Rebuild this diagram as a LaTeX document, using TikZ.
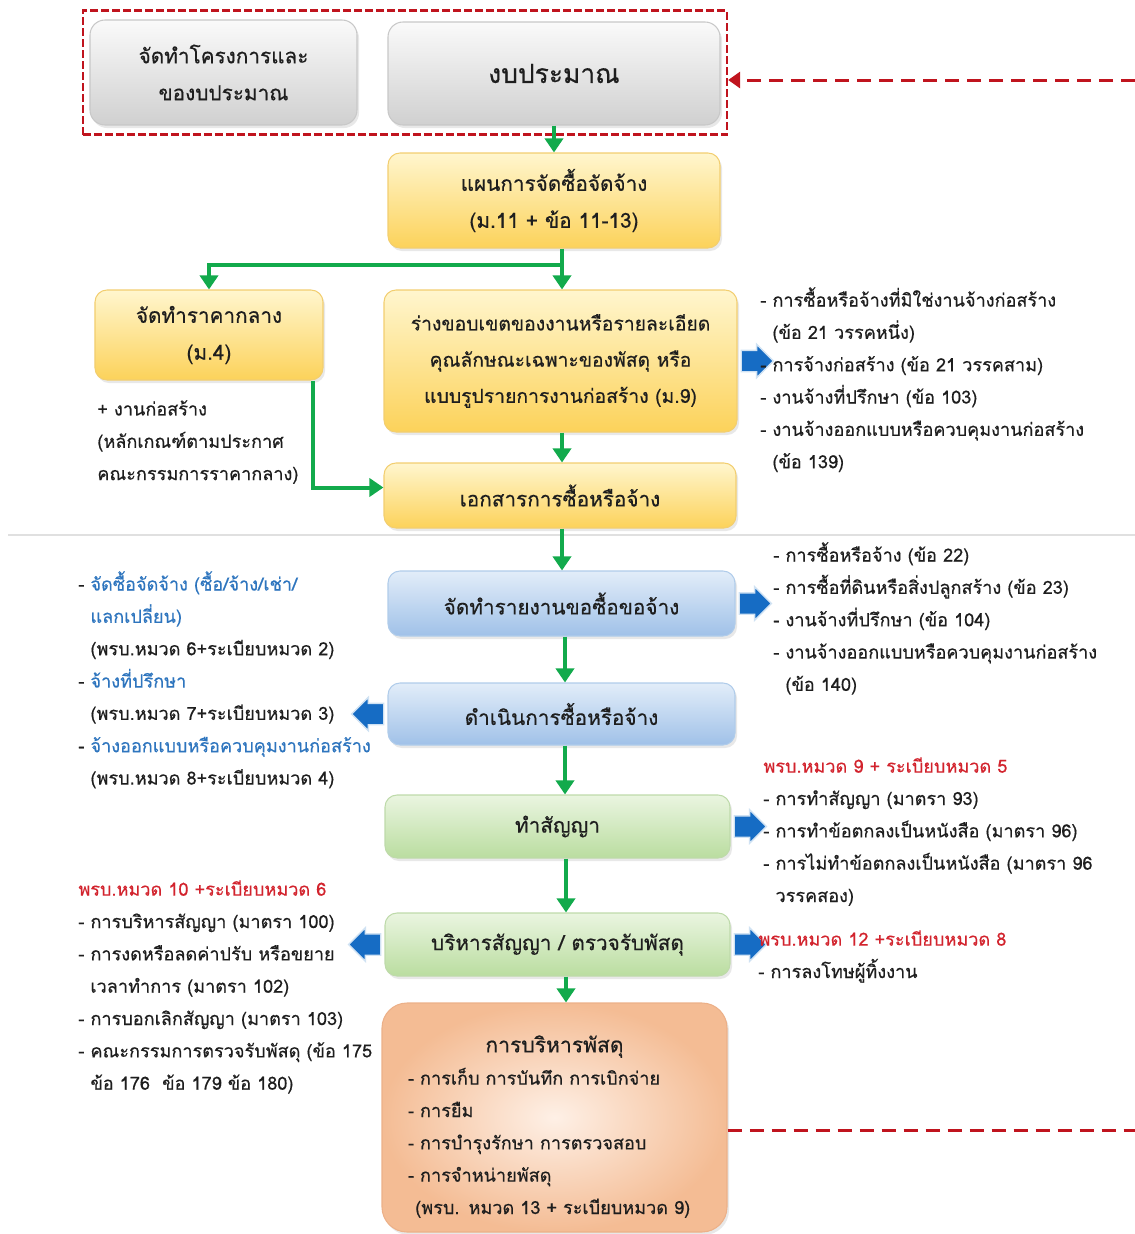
\documentclass[tikz,border=0pt]{standalone}
\usepackage{fontspec}
\newfontfamily\thaifont[Script=Thai,FakeBold=0.5]{Loma}
\usetikzlibrary{arrows.meta,positioning,fit,backgrounds,shapes.arrows,shadows}
\definecolor{textgray}{RGB}{30,30,30}
\definecolor{flowgreen}{RGB}{18,170,76}
\definecolor{arrowblue}{RGB}{22,108,196}
\definecolor{loopred}{RGB}{192,20,30}
\definecolor{noteblue}{RGB}{46,117,190}
\definecolor{notered}{RGB}{210,35,45}
\definecolor{silvertop}{RGB}{250,250,250}
\definecolor{silverbot}{RGB}{208,208,208}
\definecolor{silverline}{RGB}{200,200,200}
\definecolor{goldtop}{RGB}{255,246,206}
\definecolor{goldbot}{RGB}{252,210,90}
\definecolor{goldline}{RGB}{242,206,112}
\definecolor{skytop}{RGB}{226,237,249}
\definecolor{skybot}{RGB}{160,193,232}
\definecolor{skyline}{RGB}{176,204,234}
\definecolor{leaftop}{RGB}{234,245,224}
\definecolor{leafbot}{RGB}{186,221,160}
\definecolor{leafline}{RGB}{190,218,170}
\definecolor{peachtop}{RGB}{254,240,230}
\definecolor{peachbot}{RGB}{244,188,148}
\definecolor{peachline}{RGB}{236,176,136}
\tikzset{
  stage/.style={draw=#1line, top color=#1top, bottom color=#1bot, rounded corners=2.4mm,
    line width=0.6pt, align=center, text=textgray, font=\thaifont\fontsize{11.8}{21}\selectfont,
    drop shadow={opacity=0.18, shadow xshift=0.4mm, shadow yshift=-0.6mm}},
  note/.style={anchor=north west, inner sep=0pt, align=left, text=textgray,
    font=\thaifont\fontsize{10.3}{18.4}\selectfont, execute at begin node={\rule{0pt}{13pt}}},
  flow/.style={-{Triangle[length=2.8mm,width=3.6mm]}, line width=0.8mm, draw=flowgreen},
  pointer/.style={single arrow, fill=arrowblue, draw=arrowblue!20, line width=0.8pt,
    minimum height=6mm, minimum width=6.4mm, inner sep=2mm, single arrow head extend=1.2mm},
  feedback/.style={draw=loopred, line width=0.6mm, dash pattern=on 2.8mm off 1.6mm}
}
\begin{document}
\begin{tikzpicture}[x=0.2mm, y=-0.2mm]
  \useasboundingbox (0,0) rectangle (1135,1234);
  \draw[black!12, line width=0.8pt] (8,535) -- (1135,535);
  % budget stage
  \node[stage=silver, rounded corners=3mm, minimum width=53.4mm, minimum height=21mm] (projects) at (223.5,72.5) {จัดทำโครงการและ\\ของบประมาณ};
  \node[stage=silver, rounded corners=3mm, minimum width=66.4mm, minimum height=20.6mm, font=\thaifont\fontsize{15}{21}\selectfont] (budget) at (554,73.5) {งบประมาณ};
  \node[draw=loopred, dash pattern=on 1.6mm off 0.6mm, line width=0.45mm, fit=(projects)(budget), inner xsep=1.3mm, inner ysep=1.8mm] (budgetframe) {};
  % planning
  \node[stage=gold, minimum width=66.4mm, minimum height=19mm] (plan) at (554,200.5) {แผนการจัดซื้อจัดจ้าง\\(ม.11 + ข้อ 11-13)};
  \node[stage=gold, minimum width=45.6mm, minimum height=18mm] (price) at (209,335) {จัดทำราคากลาง\\(ม.4)};
  \node[stage=gold, minimum width=70.6mm, minimum height=28.4mm, font=\thaifont\fontsize{11}{20.6}\selectfont] (scope) at (560.5,361) {ร่างขอบเขตของงานหรือรายละเอียด\\คุณลักษณะเฉพาะของพัสดุ หรือ\\แบบรูปรายการงานก่อสร้าง (ม.9)};
  \node[stage=gold, minimum width=70.4mm, minimum height=13mm] (doc) at (560,495.5) {เอกสารการซื้อหรือจ้าง};
  \node[note] (pricenote) at (97,400) {+ งานก่อสร้าง\\(หลักเกณฑ์ตามประกาศ\\คณะกรรมการราคากลาง)};
  \node[pointer, right=0.6mm of scope] (scopeout) {};
  \node[note] (scopenote) at (760,287) {- การซื้อหรือจ้างที่มิใช่งานจ้างก่อสร้าง\\\hphantom{- }(ข้อ 21 วรรคหนึ่ง)\\- การจ้างก่อสร้าง (ข้อ 21 วรรคสาม)\\- งานจ้างที่ปรึกษา (ข้อ 103)\\- งานจ้างออกแบบหรือควบคุมงานก่อสร้าง\\\hphantom{- }(ข้อ 139)};
  % procurement
  \node[stage=sky, minimum width=69.4mm, minimum height=13mm] (report) at (561.5,603.5) {จัดทำรายงานขอซื้อขอจ้าง};
  \node[stage=sky, minimum width=69.4mm, minimum height=12.4mm] (proc) at (561.5,714) {ดำเนินการซื้อหรือจ้าง};
  \node[pointer, right=0.6mm of report] (reportout) {};
  \node[note] (reportnote) at (773,542) {- การซื้อหรือจ้าง (ข้อ 22)\\- การซื้อที่ดินหรือสิ่งปลูกสร้าง (ข้อ 23)\\- งานจ้างที่ปรึกษา (ข้อ 104)\\- งานจ้างออกแบบหรือควบคุมงานก่อสร้าง\\\hphantom{- }(ข้อ 140)};
  \node[pointer, shape border rotate=180, left=0.6mm of proc] (procout) {};
  \node[note] (procnote) at (78,571) {- \textcolor{noteblue}{จัดซื้อจัดจ้าง (ซื้อ/จ้าง/เช่า/}\\\hphantom{- }\textcolor{noteblue}{แลกเปลี่ยน)}\\\hphantom{- }(พรบ.หมวด 6+ระเบียบหมวด 2)\\- \textcolor{noteblue}{จ้างที่ปรึกษา}\\\hphantom{- }(พรบ.หมวด 7+ระเบียบหมวด 3)\\- \textcolor{noteblue}{จ้างออกแบบหรือควบคุมงานก่อสร้าง}\\\hphantom{- }(พรบ.หมวด 8+ระเบียบหมวด 4)};
  % contract
  \node[stage=leaf, minimum width=69mm, minimum height=12.6mm] (contract) at (557.5,826.5) {ทำสัญญา};
  \node[stage=leaf, minimum width=69mm, minimum height=12.6mm] (manage) at (557.5,944.5) {บริหารสัญญา / ตรวจรับพัสดุ};
  \node[pointer, right=0.6mm of contract] (contractout) {};
  \node[note] (contractnote) at (763,757) {\textcolor{notered}{พรบ.หมวด 9 + ระเบียบหมวด 5}\\- การทำสัญญา (มาตรา 93)\\- การทำข้อตกลงเป็นหนังสือ (มาตรา 96)\\- การไม่ทำข้อตกลงเป็นหนังสือ (มาตรา 96\\\hphantom{- }วรรคสอง)};
  \node[pointer, right=0.6mm of manage] (manageout) {};
  \node[pointer, shape border rotate=180, left=0.6mm of manage] (manageback) {};
  \node[note] (managenote) at (758,930) {\textcolor{notered}{พรบ.หมวด 12 +ระเบียบหมวด 8}\\- การลงโทษผู้ทิ้งงาน};
  \node[note] (manageleft) at (78,880) {\textcolor{notered}{พรบ.หมวด 10 +ระเบียบหมวด 6}\\- การบริหารสัญญา (มาตรา 100)\\- การงดหรือลดค่าปรับ หรือขยาย\\\hphantom{- }เวลาทำการ (มาตรา 102)\\- การบอกเลิกสัญญา (มาตรา 103)\\- คณะกรรมการตรวจรับพัสดุ (ข้อ 175\\\hphantom{- }ข้อ 176\ \ ข้อ 179 ข้อ 180)};
  % store
  \node[stage=peach, inner color=peachtop, outer color=peachbot, rounded corners=5mm, align=left,
    text width=58.6mm, inner xsep=5.2mm, minimum height=45.8mm,
    font=\thaifont\fontsize{10.3}{18.4}\selectfont] (store) at (554.5,1117.5)
    {\rule{0pt}{20pt}\makebox[\linewidth]{\fontsize{12}{18.4}\selectfont การบริหารพัสดุ}\\- การเก็บ การบันทึก การเบิกจ่าย\\- การยืม\\- การบำรุงรักษา การตรวจสอบ\\- การจำหน่ายพัสดุ\\\hspace*{0.4em}(พรบ. หมวด 13 + ระเบียบหมวด 9)};
  % flow
  \coordinate (split) at (562,265);
  \draw[flow] (budget) -- (plan);
  \draw[flow, -] (plan.south -| split) -- (split);
  \draw[flow] (split) -| (price.north);
  \draw[flow] (split) -- (scope.north -| split);
  \draw[flow] (scope.south -| split) -- (doc.north -| split);
  \draw[flow] ([xshift=20.8mm]price.south) |- ([yshift=1.6mm]doc.west);
  \draw[flow] (doc.south -| split) -- (report.north -| split);
  \draw[flow] (report.south -| 565,0) -- (proc.north -| 565,0);
  \draw[flow] (proc.south -| 565,0) -- (contract.north -| 565,0);
  \draw[flow] (contract.south -| 566,0) -- (manage.north -| 566,0);
  \draw[flow] (manage.south -| 566,0) -- (store.north -| 566,0);
  % feedback loop
  \coordinate (topedge) at (1135,80);
  \coordinate (bottomedge) at (1135,1130);
  \draw[feedback, -{Triangle[length=2.4mm,width=3.2mm]}] (topedge) -- (topedge -| budgetframe.east);
  \draw[feedback] (store.east |- bottomedge) -- (bottomedge);
\end{tikzpicture}
\end{document}
